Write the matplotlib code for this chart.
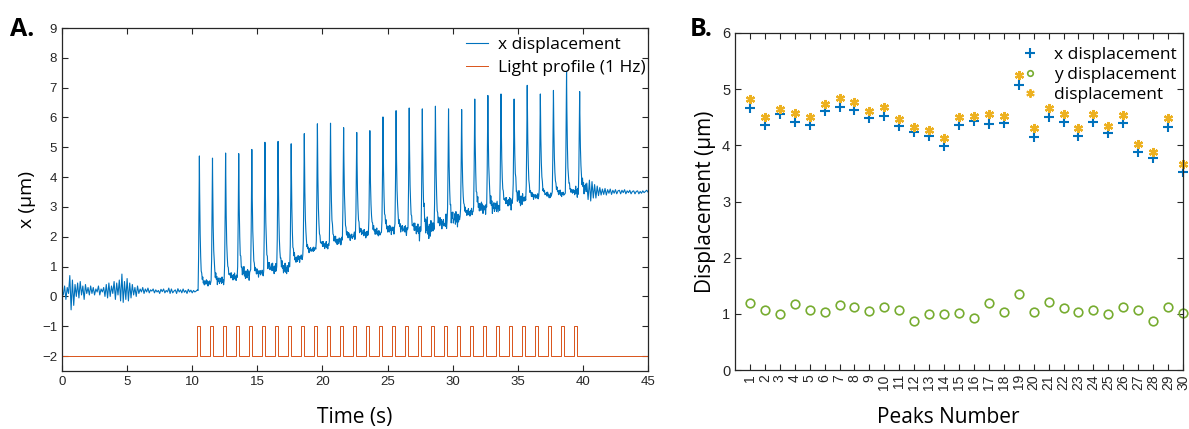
import numpy as np
import matplotlib
matplotlib.use("Agg")
import matplotlib.pyplot as plt
from matplotlib.lines import Line2D

# ---------------- Panel A data ----------------
# pre-stimulation trace, sampled every 0.1 s from 0 to 10.4 s (x in um)
pre_vals = [0.20, 0.05, 0.35, -0.10, 0.30, 0.10, 0.70, -0.45, 0.55, -0.30, 0.40,
            0.00, 0.45, -0.05, 0.50, 0.05, 0.35, -0.10, 0.40, 0.10, 0.30,
            0.05, 0.35, 0.10, 0.30, 0.05, 0.25, 0.15, 0.35, 0.05, 0.25,
            0.15, 0.30, 0.00, 0.40, -0.05, 0.45, 0.00, 0.35, 0.10, 0.50,
            -0.10, 0.45, 0.05, 0.55, -0.15, 0.75, -0.20, 0.50, -0.10, 0.60,
            -0.15, 0.45, -0.05, 0.40, 0.05, 0.30, 0.00, 0.35, 0.10, 0.25,
            0.15, 0.30, 0.10, 0.25, 0.15, 0.28, 0.12, 0.22, 0.18, 0.25,
            0.12, 0.22, 0.15, 0.20, 0.10, 0.24, 0.16, 0.25, 0.12, 0.20,
            0.15, 0.28, 0.10, 0.25, 0.12, 0.18, 0.22, 0.10, 0.26, 0.15,
            0.22, 0.12, 0.25, 0.14, 0.20, 0.10, 0.24, 0.15, 0.21, 0.12,
            0.20, 0.15, 0.18, 0.22]
pre_dt = 0.1

# peak heights of the 30 light-evoked peaks (um)
peak_heights = [4.71, 4.63, 4.80, 4.78, 4.92, 5.16, 5.19, 5.11, 5.45, 5.78,
                5.80, 5.65, 5.49, 5.55, 6.01, 6.22, 6.31, 6.28, 6.37, 6.28,
                6.26, 6.61, 6.73, 6.78, 6.61, 7.07, 6.78, 6.90, 7.54, 6.86]
first_peak_t = 10.55
peak_period = 1.007
start_level = 0.20
# mean level of the trace after each peak (um)
level_after = [0.42, 0.45, 0.60, 0.72, 0.72, 0.90, 0.85, 1.20, 1.50, 1.65,
               1.80, 1.95, 2.05, 2.10, 2.20, 2.20, 2.20, 2.20, 2.40, 2.50,
               2.75, 2.95, 2.90, 3.10, 3.20, 3.30, 3.35, 3.40, 3.45, 3.55]
# fluctuation size after each peak (um)
noise_amp = [0.12, 0.18, 0.15, 0.22, 0.15, 0.22, 0.22, 0.15, 0.12, 0.15,
             0.15, 0.15, 0.18, 0.15, 0.18, 0.18, 0.22, 0.40, 0.22, 0.35,
             0.15, 0.22, 0.28, 0.18, 0.28, 0.12, 0.12, 0.12, 0.10, 0.25]
# fluctuation pattern (relative)
wiggle = [0.0, 0.6, -0.4, 0.8, -0.2, 0.3, -0.7, 0.5, -0.3, 0.9, -0.5, 0.2, -0.8,
          0.4, 0.1, -0.6, 0.7, -0.2, 0.5, -0.9, 0.3, -0.1, 0.6, -0.4, 0.0]
# post-stimulation trace, every 0.1 s from 40.3 s
post_start = 40.3
post_vals = [3.80, 3.25, 3.90, 3.20, 3.85, 3.30, 3.75, 3.30, 3.70, 3.38, 3.65,
             3.40, 3.60, 3.42, 3.62, 3.40, 3.58, 3.46, 3.60, 3.42, 3.56, 3.46,
             3.58, 3.44, 3.54, 3.56, 3.44, 3.56, 3.48, 3.58, 3.44, 3.54, 3.48,
             3.56, 3.44, 3.52, 3.54, 3.44, 3.52, 3.54, 3.44, 3.52, 3.46, 3.54,
             3.48, 3.52, 3.56, 3.50]

# light stimulus
light_low, light_high = -2.0, -1.0
pulse_first = 10.40
pulse_period = 0.997
pulse_width = 0.20
n_pulses = 30

# ---------------- Panel B data ----------------
peaks_number = list(range(1, 31))
x_disp = [4.66, 4.36, 4.55, 4.42, 4.37, 4.62, 4.69, 4.63, 4.49, 4.53,
          4.34, 4.23, 4.16, 3.98, 4.37, 4.43, 4.38, 4.39, 5.07, 4.15,
          4.50, 4.42, 4.17, 4.42, 4.22, 4.40, 3.88, 3.78, 4.33, 3.53]
y_disp = [1.19, 1.06, 1.00, 1.17, 1.06, 1.04, 1.16, 1.13, 1.05, 1.13,
          1.06, 0.88, 0.99, 1.00, 1.01, 0.93, 1.20, 1.03, 1.35, 1.03,
          1.21, 1.10, 1.04, 1.07, 0.99, 1.12, 1.06, 0.88, 1.12, 1.02]
tot_disp = [4.82, 4.50, 4.65, 4.58, 4.50, 4.74, 4.84, 4.77, 4.62, 4.68,
            4.47, 4.32, 4.28, 4.13, 4.50, 4.53, 4.55, 4.52, 5.26, 4.30,
            4.66, 4.56, 4.30, 4.56, 4.34, 4.54, 4.03, 3.88, 4.48, 3.67]

BLUE = "#0072BD"
ORANGE = "#D95319"
YELLOW = "#EDB120"
GREEN = "#77AC30"
AXC = "#262626"

# ---------------- build trace ----------------
pre_t = np.arange(len(pre_vals)) * pre_dt
tp = first_peak_t + np.arange(len(peak_heights)) * peak_period
grid = np.round(np.arange(10.45, 40.26, 0.04), 4)
stim_t = np.union1d(grid, tp)
knot_t = np.concatenate([[10.45], tp + 0.5])
knot_v = np.concatenate([[start_level], level_after])
base = np.interp(stim_t, knot_t, knot_v)
trace = base.copy()
SH = 0.45
for k, (t0, h) in enumerate(zip(tp, peak_heights)):
    b0 = np.interp(t0, knot_t, knot_v)
    amp = h - b0 - SH
    d = stim_t - t0
    rise = (d >= -0.1) & (d < 0)
    fall = d >= 0
    trace[rise] += (amp + SH) * ((d[rise] + 0.1) / 0.1) ** 1.5
    trace[fall] += amp * np.exp(-d[fall] / 0.06) + SH * np.exp(-d[fall] / 0.25)
cyc = np.clip(np.floor(stim_t - 10.45).astype(int), 0, len(noise_amp) - 1)
idx = np.round((stim_t - 10.45) / 0.04).astype(int)
wig = np.array([wiggle[(i + 7 * c) % len(wiggle)] for i, c in zip(idx, cyc)])
namp = np.array(noise_amp)[cyc]
near_peak = np.min(np.abs(stim_t[:, None] - tp[None, :]), axis=1) < 0.1
trace = trace + np.where(near_peak, 0, wig * namp)
post_t = post_start + np.arange(len(post_vals)) * pre_dt

t_all = np.concatenate([pre_t, stim_t, post_t])
x_all = np.concatenate([pre_vals, trace, post_vals])

lx, ly = [0.0], [light_low]
for k in range(n_pulses):
    s = pulse_first + k * pulse_period
    lx += [s, s, s + pulse_width, s + pulse_width]
    ly += [light_low, light_high, light_high, light_low]
lx.append(45.0)
ly.append(light_low)

# ---------------- figure ----------------
plt.rcParams['font.family'] = ['Liberation Sans', 'DejaVu Sans']
LABF = ['Open Sans', 'DejaVu Sans']
fig = plt.figure(figsize=(11.89, 4.29), dpi=100)

axA = fig.add_axes([62 / 1189, 1 - 371 / 429, 586 / 1189, 343 / 429])
axA.plot(t_all, x_all, color=BLUE, lw=0.8, label='x displacement')
axA.plot(lx, ly, color=ORANGE, lw=0.7, label='Light profile (1 Hz)')
axA.set_xlim(0, 45)
axA.set_ylim(-2.5, 9)
axA.set_xticks(np.arange(0, 46, 5))
axA.set_yticks(np.arange(-2, 10, 1))
axA.set_xlabel('Time (s)', fontsize=15, family=LABF, va='baseline')
axA.xaxis.set_label_coords(0.5, (371 - 423) / 343)
axA.set_ylabel('x (μm)', fontsize=14, family=LABF, labelpad=4)
axA.legend(loc='upper right', bbox_to_anchor=(1.007, 0.995), frameon=False,
           prop={'family': LABF, 'size': 12.5}, handlelength=1.27,
           handletextpad=0.57, labelspacing=0.4, borderaxespad=0.0)

axB = fig.add_axes([735 / 1189, 1 - 370 / 429, 448 / 1189, 337 / 429])
axB.plot(peaks_number, x_disp, ls='none', marker='+', ms=7, mew=1.5,
         color=BLUE, clip_on=False)
axB.plot(peaks_number, y_disp, ls='none', marker='o', ms=6.2, mew=1.2,
         mfc='none', mec=GREEN, clip_on=False)
axB.plot(peaks_number, tot_disp, ls='none', marker=(6, 2, 0), ms=6.5, mew=1.6,
         color=YELLOW, clip_on=False)
axB.set_xlim(0, 30)
axB.set_ylim(0, 6)
axB.set_xticks(peaks_number)
axB.set_xticklabels([str(p) for p in peaks_number], rotation=90, fontsize=10)
axB.set_yticks(np.arange(0, 7, 1))
axB.set_xlabel('Peaks Number', fontsize=15, family=LABF, va='baseline')
axB.xaxis.set_label_coords(0.475, (370 - 423) / 337)
axB.set_ylabel('Displacement (μm)', fontsize=15, family=LABF, labelpad=4)
handles = [Line2D([], [], ls='none', marker='+', ms=7, mew=1.5, color=BLUE),
           Line2D([], [], ls='none', marker='o', ms=4, mew=1.2, mfc='none', mec=GREEN),
           Line2D([], [], ls='none', marker=(6, 2, 0), ms=6, mew=1.4, color=YELLOW)]
axB.legend(handles, ['x displacement', 'y displacement', 'displacement'],
           loc='upper right', bbox_to_anchor=(1.002, 0.979), frameon=False,
           prop={'family': LABF, 'size': 12.5}, handlelength=1.0,
           handletextpad=0.9, labelspacing=0.23, borderaxespad=0.0)

for ax, fs in ((axA, 9.5), (axB, 10.5)):
    for sp in ax.spines.values():
        sp.set_color(AXC)
        sp.set_linewidth(0.9)
    ax.tick_params(direction='in', top=True, right=True, length=4,
                   width=0.8, color=AXC, labelcolor=AXC, labelsize=fs)
axB.tick_params(axis='x', labelsize=10, pad=3)

fig.text(10 / 1189, 1 - 30 / 429, 'A.', fontsize=18, fontweight='bold',
         family=LABF, va='center', ha='left')
fig.text(690 / 1189, 1 - 30 / 429, 'B.', fontsize=18, fontweight='bold',
         family=LABF, va='center', ha='left')

fig.savefig('out.png', dpi=100)
